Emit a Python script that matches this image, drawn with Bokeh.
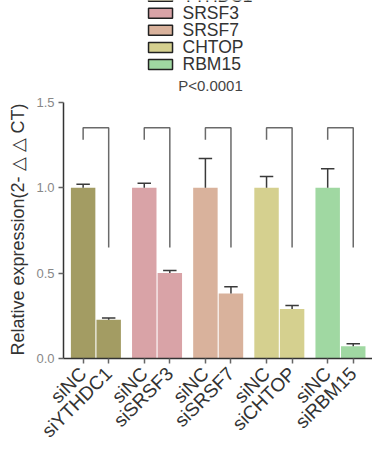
import math
from bokeh.plotting import figure
from bokeh.layouts import column
from bokeh.models import Range1d, FixedTicker, NumeralTickFormatter, ColumnDataSource
from bokeh.embed import file_html
from bokeh.resources import INLINE
from bokeh.core.properties import value

# ---- data ----
genes = ["YTHDC1", "SRSF3", "SRSF7", "CHTOP", "RBM15"]
nc_labels = ["siNC", "siNC", "siNC", "siNC", "siNC"]
kd_labels = ["siYTHDC1", "siSRSF3", "siSRSF7", "siCHTOP", "siRBM15"]
nc_means = [1.0, 1.0, 1.0, 1.0, 1.0]
nc_err = [0.02, 0.025, 0.17, 0.065, 0.11]
kd_means = [0.227, 0.50, 0.38, 0.29, 0.072]
kd_err = [0.01, 0.015, 0.04, 0.02, 0.014]
colors = ["#a39c63", "#d9a3a7", "#d9b29c", "#d5d08f", "#a0d8a2"]
y_ticks = [0.0, 0.5, 1.0, 1.5]
p_label = "P<0.0001"
y_label = "Relative expression(2- \u25b3 \u25b3 CT)"

FONT = "Liberation Sans"
off = 0.209
bw = 0.40
capw = 0.11

xs, tops, errs, cols, labels = [], [], [], [], []
for g in range(len(genes)):
    xs += [g - off, g + off]
    tops += [nc_means[g], kd_means[g]]
    errs += [nc_err[g], kd_err[g]]
    cols += [colors[g], colors[g]]
    labels += [nc_labels[g], kd_labels[g]]

xr = Range1d(-0.53, 4.524)

# ---- top panel: legend and p-value ----
top = figure(width=372, height=94, output_backend="svg", toolbar_location=None,
             x_range=xr, y_range=Range1d(1.545, 2.095),
             x_axis_location=None, y_axis_location=None,
             min_border_left=63, min_border_right=0, min_border_top=0, min_border_bottom=0)
top.outline_line_color = None
top.xgrid.visible = False
top.ygrid.visible = False

leg_x = 1.057
leg_top = 2.12
leg_step = 0.0998
leg_y = [leg_top - i * leg_step for i in range(len(genes))]
top.rect(x=[leg_x] * len(genes), y=leg_y, width=24, height=10, width_units="screen",
         height_units="screen", fill_color=colors, line_color="#222222", line_width=1.5)
top.text(x=[leg_x] * len(genes), y=leg_y, text=genes, x_offset=22, text_baseline="middle",
         text_font=value(FONT), text_font_size="17.5px", text_color="#333333")
top.text(x=[1.874], y=[1.596], text=[p_label], text_align="center", text_baseline="middle",
         text_font=value(FONT), text_font_size="15px", text_color="#444444")

# ---- main panel: bars ----
p = figure(width=372, height=357, output_backend="svg", toolbar_location=None,
           x_range=xr, y_range=Range1d(0, 1.51),
           min_border_left=63, min_border_right=0, min_border_top=6, min_border_bottom=93)
p.outline_line_color = None
p.xgrid.visible = False
p.ygrid.visible = False

src = ColumnDataSource(dict(x=xs, top=tops, err_top=[t + e for t, e in zip(tops, errs)],
                            cl=[x - capw for x in xs], cr=[x + capw for x in xs], color=cols))
p.vbar(x="x", top="top", bottom=0, width=bw, fill_color="color", line_color=None, source=src)
p.segment(x0="x", y0="top", x1="x", y1="err_top", line_color="#3a3a3a", line_width=1.5, source=src)
p.segment(x0="cl", y0="err_top", x1="cr", y1="err_top", line_color="#3a3a3a", line_width=1.5, source=src)

bx, by = [], []
for g in range(len(genes)):
    bx.append([g - off, g - off, g + off, g + off])
    by.append([1.28, 1.35, 1.35, 0.65])
p.multi_line(xs=bx, ys=by, line_color="#6a6a6a", line_width=1.5)

p.yaxis.bounds = (0, 1.5)
p.yaxis.ticker = FixedTicker(ticks=y_ticks)
p.yaxis.formatter = NumeralTickFormatter(format="0.0")
p.yaxis.axis_label = y_label
p.yaxis.axis_label_text_font = FONT
p.yaxis.axis_label_text_font_size = "18px"
p.yaxis.axis_label_text_font_style = "normal"
p.yaxis.axis_label_text_color = "#333333"
p.yaxis.axis_label_standoff = 5
p.yaxis.major_label_text_font = FONT
p.yaxis.major_label_text_font_size = "13px"
p.yaxis.major_label_text_color = "#888888"
p.yaxis.major_label_standoff = 4

p.xaxis.ticker = FixedTicker(ticks=xs)
p.xaxis.major_label_overrides = {x: l for x, l in zip(xs, labels)}
p.xaxis.major_label_orientation = math.pi / 4
p.xaxis.major_label_text_font = FONT
p.xaxis.major_label_text_font_size = "19px"
p.xaxis.major_label_text_color = "#333333"
p.xaxis.major_label_standoff = 7

for ax in (p.xaxis, p.yaxis):
    ax.axis_line_color = "#333333"
    ax.axis_line_width = 1.5
    ax.major_tick_line_color = "#666666"
    ax.major_tick_line_width = 1.5
    ax.major_tick_out = 5
    ax.major_tick_in = 0
    ax.minor_tick_line_color = None

layout = column(top, p, spacing=0)
open("out.html", "w").write(file_html(layout, INLINE))
